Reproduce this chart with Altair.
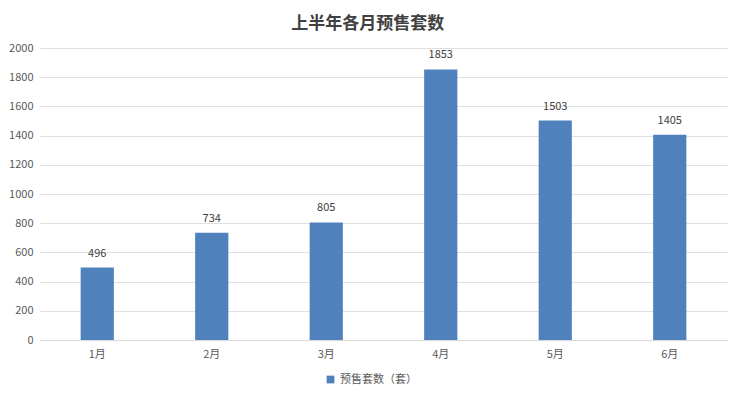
import altair as alt
import pandas as pd

months = ["1月", "2月", "3月", "4月", "5月", "6月"]
values = [496, 734, 805, 1853, 1503, 1405]
series_name = "预售套数（套）"
title_text = "上半年各月预售套数"

df = pd.DataFrame({"month": months, "value": values, "series": [series_name] * len(months)})

FONT = "Noto Sans CJK SC"
BAR = "#4F81BD"

base = alt.Chart(df).encode(
    x=alt.X("month:N", sort=months, title=None,
            scale=alt.Scale(paddingInner=0.71, paddingOuter=0.355),
            axis=alt.Axis(labelAngle=0, ticks=False, labelPadding=8, domainColor="#d9d9d9",
                          labelColor="#595959", labelFontSize=11, labelFont=FONT)),
    y=alt.Y("value:Q", title=None,
            scale=alt.Scale(domain=[0, 2000]),
            axis=alt.Axis(values=list(range(0, 2001, 200)), format="d", ticks=False, domain=False,
                          labelPadding=7, gridColor="#e0e0e0", labelColor="#595959",
                          labelFontSize=11, labelFont=FONT, minExtent=27, maxExtent=27)),
)

bars = base.mark_bar(color=BAR).encode(
    color=alt.Color("series:N", scale=alt.Scale(range=[BAR]), title=None,
                    legend=alt.Legend(orient="none", legendX=285, legendY=326, direction="horizontal",
                                      symbolType="square", symbolSize=60, labelFontSize=11,
                                      labelFont=FONT, labelColor="#595959"))
)

labels = base.mark_text(dy=-9, baseline="bottom", fontSize=11, font=FONT, color="#404040").encode(
    text="value:Q"
)

chart = (bars + labels).properties(
    width=687, height=292,
    padding={"left": 0, "top": 7, "right": 5, "bottom": 5},
    title=alt.TitleParams(title_text, fontSize=17, font=FONT, fontWeight="bold", color="#404040",
                          anchor="middle", frame="bounds", offset=9),
).configure_view(stroke=None)

chart.save("out.html", embed_options={"renderer": "svg", "actions": False})
